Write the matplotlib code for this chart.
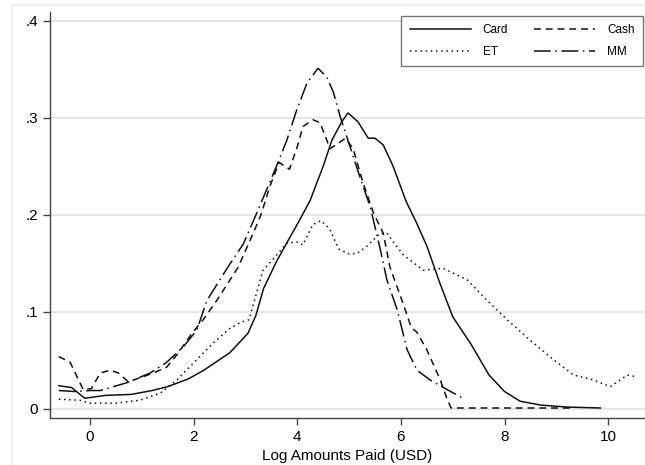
import matplotlib
matplotlib.use("Agg")
import matplotlib.pyplot as plt
from matplotlib.lines import Line2D

plt.rcParams['font.family'] = ['Liberation Sans', 'DejaVu Sans']

# Kernel densities of log amounts paid
card_x = [-0.6, -0.35, -0.1, 0.3, 0.8, 1.2, 1.5, 1.9, 2.2, 2.7, 3.05, 3.2, 3.35, 3.6, 3.85,
          4.05, 4.25, 4.5, 4.67, 4.86, 4.98, 5.17, 5.37, 5.5, 5.66, 5.85, 6.1, 6.3, 6.5,
          6.75, 7.0, 7.35, 7.7, 8.0, 8.3, 8.7, 9.2, 9.85]
card_y = [.024, .022, .011, .014, .015, .019, .023, .031, .040, .058, .078, .096, .124, .152, .176,
          .195, .215, .250, .277, .296, .305, .296, .279, .279, .272, .250, .214, .192, .168,
          .130, .095, .067, .035, .018, .008, .004, .002, .001]

cash_x = [-0.6, -0.38, -0.22, -0.13, 0.03, 0.2, 0.39, 0.55, 0.74, 0.96, 1.22, 1.48, 1.68, 1.97,
          2.2, 2.45, 2.86, 3.15, 3.3, 3.47, 3.65, 3.85, 4.0, 4.11, 4.3, 4.44, 4.57, 4.63, 4.8,
          4.93, 5.08, 5.27, 5.47, 5.66, 5.79, 6.04, 6.2, 6.31, 6.5, 6.76, 6.9, 6.97, 7.5, 8.5, 9.3]
cash_y = [.054, .048, .030, .020, .021, .037, .040, .037, .028, .032, .037, .043, .056, .078,
          .093, .112, .146, .181, .200, .229, .254, .247, .270, .291, .298, .295, .277, .268, .274,
          .279, .268, .233, .202, .181, .146, .109, .084, .079, .061, .030, .009, .001, .001, .001, .001]

et_x = [-0.6, -0.19, 0.0, 0.5, 0.96, 1.35, 1.68, 1.99, 2.38, 2.7, 2.9, 3.07, 3.34, 3.53, 3.8,
        4.0, 4.11, 4.3, 4.46, 4.62, 4.8, 4.98, 5.15, 5.35, 5.6, 5.73, 6.04, 6.43, 6.81, 7.28,
        7.66, 8.05, 8.49, 8.94, 9.33, 9.71, 10.04, 10.37, 10.56]
et_y = [.010, .009, .006, .006, .009, .016, .030, .047, .068, .083, .089, .092, .143, .154, .171,
        .172, .169, .190, .194, .186, .165, .160, .160, .168, .181, .181, .159, .143, .145, .133,
        .112, .092, .071, .051, .035, .030, .023, .035, .033]

mm_x = [-0.6, -0.3, 0.0, 0.2, 0.71, 1.16, 1.48, 1.8, 2.06, 2.26, 2.66, 2.96, 3.22, 3.41, 3.63,
        3.8, 3.99, 4.19, 4.4, 4.57, 4.7, 4.83, 5.02, 5.21, 5.41, 5.6, 5.73, 5.93, 6.12, 6.31,
        6.56, 6.89, 7.2]
mm_y = [.019, .018, .019, .019, .027, .037, .048, .064, .081, .112, .146, .170, .202, .226, .254,
        .277, .308, .336, .351, .342, .326, .301, .270, .239, .208, .165, .133, .102, .061, .040,
        .030, .020, .011]

yticks = [0, .1, .2, .3, .4]
ytick_labels = ['0', '.1', '.2', '.3', '.4']
xticks = [0, 2, 4, 6, 8, 10]

fig = plt.figure(figsize=(6.45, 4.65), dpi=100)
ax = fig.add_axes([50 / 645, 47 / 465, 595 / 645, 406 / 465])

# faint outer graph-region frame (Stata style)
fig.add_artist(Line2D([12 / 645, 12 / 645], [0, 1 - 5 / 465], color='#eeeeee', lw=1.2))
fig.add_artist(Line2D([12 / 645, 1], [1 - 5 / 465, 1 - 5 / 465], color='#eeeeee', lw=1.2))

lw = 1.1
ax.plot(card_x, card_y, color='#111111', lw=lw, label='Card')
ax.plot(et_x, et_y, color='#111111', lw=lw, linestyle=(0, (1, 2.4)), label='ET')
ax.plot(cash_x, cash_y, color='#111111', lw=lw, linestyle=(0, (4.5, 3.2)), label='Cash')
ax.plot(mm_x, mm_y, color='#111111', lw=lw, linestyle=(0, (11, 3, 1, 3)), label='MM')

ax.set_xlim(-0.77, 10.71)
ax.set_ylim(-0.0093, 0.409)
ax.set_yticks(yticks)
ax.set_yticklabels(ytick_labels)
ax.set_xticks(xticks)
ax.grid(axis='y', color='#e6e6e6', lw=1.5)
ax.set_axisbelow(True)

for s in ['top', 'right']:
    ax.spines[s].set_visible(False)
for s in ['left', 'bottom']:
    ax.spines[s].set_color('#444444')
    ax.spines[s].set_linewidth(1.0)
ax.tick_params(colors='#444444', labelcolor='black', labelsize=11, length=5, width=1)
ax.set_xlabel('Log Amounts Paid (USD)', fontsize=11, labelpad=4)

leg = ax.legend(ncol=2, loc='upper right', bbox_to_anchor=(643 / 645, 1 - 16 / 465),
                bbox_transform=fig.transFigure, borderaxespad=0, fontsize=8.5,
                handlelength=5.2, handletextpad=1.0, columnspacing=2.2, labelspacing=0.8,
                frameon=True, fancybox=False, borderpad=0.7)
leg.get_frame().set_edgecolor('#555555')
leg.get_frame().set_linewidth(1.0)

fig.savefig('out.png', dpi=100)
